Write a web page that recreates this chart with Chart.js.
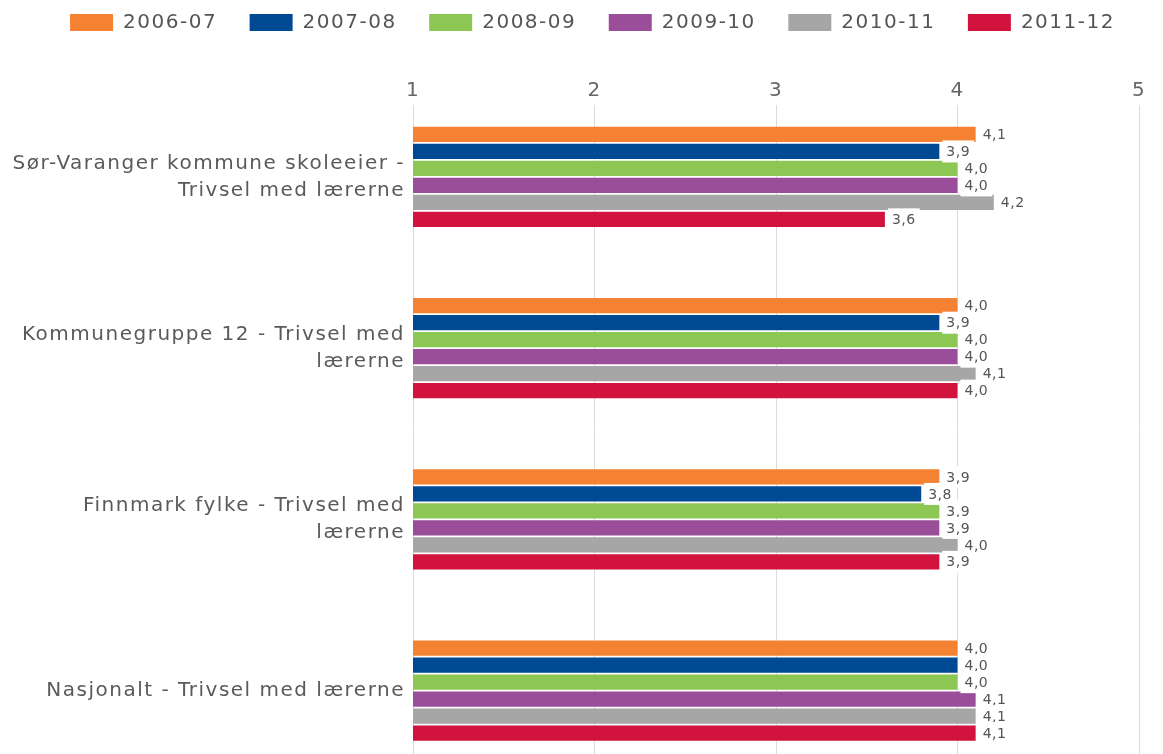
<!DOCTYPE html>
<html lang="no">
<head>
  <meta charset="UTF-8">
  <title>Trivsel med lærerne</title>
  <script src="https://cdn.jsdelivr.net/npm/chart.js"></script>
  <style>
    body {
      margin: 0;
      background: #fff;
      overflow: hidden;
    }

    .chart-box {
      position: relative;
      width: 1163px;
      height: 754px;
    }
  </style>
</head>
<body>
  <div class="chart-box">
    <canvas id="trivselChart"></canvas>
  </div>

  <script>
    // categories (each one split over the lines it uses in the picture)
    const categories = [
      ['Sør-Varanger kommune skoleeier -', 'Trivsel med lærerne'],
      ['Kommunegruppe 12 - Trivsel med', 'lærerne'],
      ['Finnmark fylke - Trivsel med', 'lærerne'],
      ['Nasjonalt - Trivsel med lærerne']
    ];
    const seasons = ['2006-07', '2007-08', '2008-09', '2009-10', '2010-11', '2011-12'];
    const seasonColors = ['#F58233', '#004A93', '#8CC653', '#9A4E99', '#A6A6A6', '#D2133E'];

    const v2006 = [4.1, 4.0, 3.9, 4.0];
    const v2007 = [3.9, 3.9, 3.8, 4.0];
    const v2008 = [4.0, 4.0, 3.9, 4.0];
    const v2009 = [4.0, 4.0, 3.9, 4.1];
    const v2010 = [4.2, 4.1, 4.0, 4.1];
    const v2011 = [3.6, 4.0, 3.9, 4.1];
    const seriesValues = [v2006, v2007, v2008, v2009, v2010, v2011];

    const xTicks = [1, 2, 3, 4, 5];

    const TEXT = '#555';
    const LEGEND_GAP = 32.5;
    const TOP_PAD = 12.5 - LEGEND_GAP;   // legend rows sit below labels.padding, pull them up
    const PLOT_TOP = 105;
    const PLOT_LEFT = 413;

    Chart.defaults.font.family = "'DejaVu Sans', sans-serif";
    Chart.defaults.color = TEXT;

    // the source font is wide and loosely spaced
    const spacing = {
      id: 'spacing',
      beforeUpdate(chart) { chart.ctx.letterSpacing = '1.5px'; },
      beforeDraw(chart) { chart.ctx.letterSpacing = '1.5px'; }
    };

    // the first band starts a little above the plot top in the original
    const bandFix = {
      id: 'bandFix',
      afterLayout(chart) {
        const y = chart.scales.y;
        y._startValue = -0.42;
        y._valueRange = 3.79;
      }
    };

    // value at the end of each bar, on a white box
    const valueLabels = {
      id: 'valueLabels',
      afterDatasetsDraw(chart) {
        const ctx = chart.ctx;
        ctx.save();
        ctx.letterSpacing = '0.5px';
        ctx.font = "14px 'DejaVu Sans', sans-serif";
        ctx.textBaseline = 'middle';
        ctx.textAlign = 'left';
        chart.data.datasets.forEach((ds, i) => {
          chart.getDatasetMeta(i).data.forEach((bar, j) => {
            const txt = ds.data[j].toFixed(1).replace('.', ',');
            const w = ctx.measureText(txt).width;
            ctx.fillStyle = '#fff';
            ctx.fillRect(bar.x + 3, bar.y - 11, w + 8, 22);
            ctx.fillStyle = TEXT;
            ctx.fillText(txt, bar.x + 7, bar.y + 1);
          });
        });
        ctx.restore();
      }
    };

    const ctx = document.getElementById('trivselChart').getContext('2d');
    new Chart(ctx, {
      type: 'bar',
      data: {
        labels: categories,
        datasets: seasons.map((s, i) => ({
          label: s,
          data: seriesValues[i],
          backgroundColor: seasonColors[i],
          categoryPercentage: 0.595,
          barPercentage: 0.9
        }))
      },
      options: {
        indexAxis: 'y',
        responsive: true,
        maintainAspectRatio: false,
        animation: false,
        layout: {
          // negative right pad only nudges the centred legend; the x axis keeps its own right margin
          padding: { top: TOP_PAD, left: 0, right: -22, bottom: 0 }
        },
        plugins: {
          legend: {
            position: 'top',
            labels: {
              boxWidth: 43,
              boxHeight: 17,
              padding: LEGEND_GAP,
              color: TEXT,
              font: { size: 20 }
            }
          },
          tooltip: { enabled: false }
        },
        scales: {
          x: {
            position: 'top',
            min: 1,
            max: 5,
            afterBuildTicks(scale) {
              scale.ticks = xTicks.map(v => ({ value: v }));
            },
            afterFit(scale) {
              scale.height = PLOT_TOP - (TOP_PAD + scale.chart.legend.height);
              scale.paddingRight = 24;
            },
            border: { display: false },
            grid: {
              color: '#dcdcdc',
              drawTicks: false
            },
            ticks: {
              padding: 2,
              color: '#666',
              font: { size: 20 }
            }
          },
          y: {
            afterFit(scale) {
              scale.width = PLOT_LEFT;
              scale.paddingTop = 0;
              scale.paddingBottom = 0;
            },
            border: { display: false },
            grid: { display: false, drawTicks: false },
            ticks: {
              padding: 8,
              color: '#5a5a5a',
              font: { size: 20, lineHeight: 1.35 }
            }
          }
        }
      },
      plugins: [spacing, bandFix, valueLabels]
    });
  </script>
</body>
</html>
